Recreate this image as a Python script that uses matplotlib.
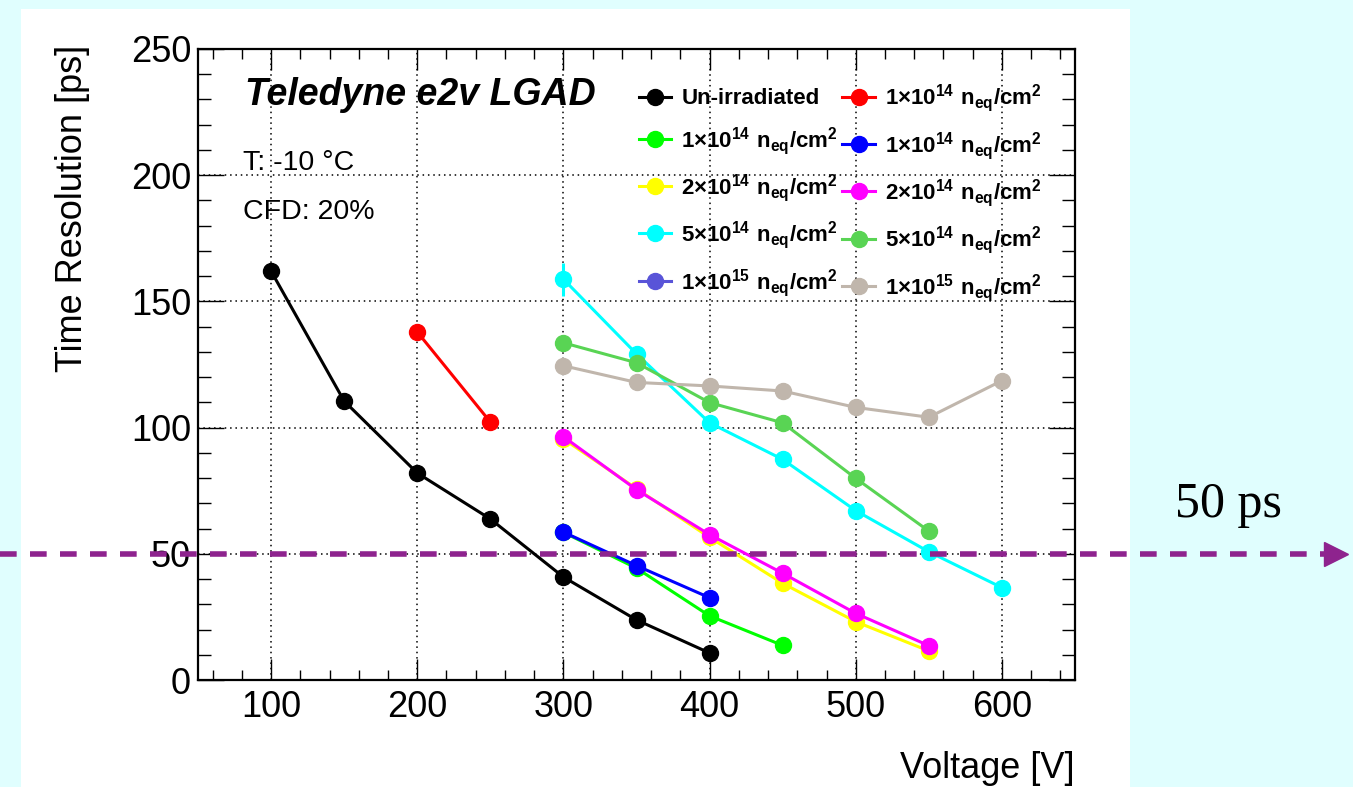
import matplotlib
matplotlib.use("Agg")
import matplotlib.pyplot as plt
from matplotlib.patches import Rectangle
from matplotlib.transforms import blended_transform_factory

plt.rcParams['font.family'] = ['Liberation Sans', 'DejaVu Sans']
plt.rcParams['mathtext.fontset'] = 'custom'
plt.rcParams['mathtext.rm'] = 'Liberation Sans'
plt.rcParams['mathtext.bf'] = 'Liberation Sans:bold'
plt.rcParams['mathtext.default'] = 'bf'

# time resolution [ps] vs bias voltage [V]
v_unirr = [100, 150, 200, 250, 300, 350, 400]
t_unirr = [162.0, 110.5, 82.0, 63.8, 40.8, 23.8, 10.7]

v_1e14_red = [200, 250]
t_1e14_red = [137.9, 102.2]

v_1e14_green = [300, 350, 400, 450]
t_1e14_green = [58.5, 44.3, 25.4, 13.7]

v_1e14_blue = [300, 350, 400]
t_1e14_blue = [58.6, 45.3, 32.6]

v_2e14_yellow = [300, 350, 400, 450, 500, 550]
t_2e14_yellow = [95.5, 75.8, 56.5, 38.3, 23.1, 11.5]

v_2e14_magenta = [300, 350, 400, 450, 500, 550]
t_2e14_magenta = [96.4, 75.4, 57.6, 42.3, 26.4, 13.6]

v_5e14_cyan = [300, 350, 400, 450, 500, 550, 600]
t_5e14_cyan = [158.8, 129.2, 101.9, 87.4, 67.1, 50.8, 36.6]
e_5e14_cyan = [6.5, 0, 0, 0, 0, 0, 0]

v_5e14_green = [300, 350, 400, 450, 500, 550]
t_5e14_green = [133.6, 125.7, 109.9, 101.9, 79.9, 59.0]

v_1e15_violet = []
t_1e15_violet = []

v_1e15_grey = [300, 350, 400, 450, 500, 550, 600]
t_1e15_grey = [124.5, 117.9, 116.5, 114.5, 108.0, 104.1, 118.6]

target_ps = 50

fluence = r"$%d{\times}10^{%d}\ n_{eq}/cm^{2}$"
series = [
    (v_unirr, t_unirr, None, "#000000", "Un-irradiated"),
    (v_1e14_red, t_1e14_red, None, "#ff0000", fluence % (1, 14)),
    (v_1e14_green, t_1e14_green, None, "#00ff00", fluence % (1, 14)),
    (v_1e14_blue, t_1e14_blue, None, "#0000ff", fluence % (1, 14)),
    (v_2e14_yellow, t_2e14_yellow, None, "#ffff00", fluence % (2, 14)),
    (v_2e14_magenta, t_2e14_magenta, None, "#ff00ff", fluence % (2, 14)),
    (v_5e14_cyan, t_5e14_cyan, e_5e14_cyan, "#00ffff", fluence % (5, 14)),
    (v_5e14_green, t_5e14_green, None, "#59d454", fluence % (5, 14)),
    (v_1e15_violet, t_1e15_violet, None, "#5954d8", fluence % (1, 15)),
    (v_1e15_grey, t_1e15_grey, None, "#c0b6ac", fluence % (1, 15)),
]

fig = plt.figure(figsize=(13.53, 7.87), dpi=100)
fig.patch.set_facecolor("#e0fefe")
fig.patches.append(Rectangle((21 / 1353, 0), (1130 - 21) / 1353, 778 / 787,
                             transform=fig.transFigure, facecolor="white",
                             edgecolor="none", zorder=-10))

ax = fig.add_axes([198 / 1353, 107 / 787, 877 / 1353, 631 / 787])
ax.set_facecolor("white")

handles = []
for v, t, err, col, lab in series:
    if err is not None:
        ax.errorbar(v, t, yerr=err, fmt="none", ecolor=col, elinewidth=2.2, zorder=3)
    h, = ax.plot(v, t, "-o", color=col, lw=2.2, ms=11.5, label=lab, zorder=3)
    handles.append(h)

ax.set_xlim(50, 650)
ax.set_ylim(0, 250)
ax.set_xticks([100, 200, 300, 400, 500, 600])
ax.set_xticks(range(60, 650, 20), minor=True)
ax.set_yticks([0, 50, 100, 150, 200, 250])
ax.set_yticks(range(0, 251, 10), minor=True)
ax.grid(True, which="major", color="black", ls=(0, (1, 2.5)), lw=1.1)
ax.set_axisbelow(True)

for s in ax.spines.values():
    s.set_linewidth(1.6)
ax.tick_params(axis="both", which="both", direction="in", top=True, right=True,
               width=1.0, labelsize=26)
ax.tick_params(axis="x", which="major", length=15, pad=7)
ax.tick_params(axis="x", which="minor", length=7)
ax.tick_params(axis="y", which="major", length=19, pad=5)
ax.tick_params(axis="y", which="minor", length=9.5)

fig.text(73 / 1353, 1 - 45 / 787, "Time Resolution [ps]", rotation=90,
         ha="center", va="top", fontsize=26)
fig.text(1075 / 1353, 1 - 768 / 787, "Voltage [V]", ha="right", va="center",
         fontsize=26)

ax.text(0.054, 0.911, "Teledyne e2v LGAD", transform=ax.transAxes,
        fontsize=27, fontweight="bold", fontstyle="italic", va="baseline")
ax.text(0.051, 0.808, "T: -10 \u00b0C", transform=ax.transAxes, fontsize=20.5,
        va="baseline")
ax.text(0.051, 0.731, "CFD: 20%", transform=ax.transAxes, fontsize=20.5,
        va="baseline")

order = handles[0::2] + handles[1::2]
ax.legend(handles=order, labels=[h.get_label() for h in order], ncol=2,
          loc="upper left", bbox_to_anchor=(0.503, 0.947), frameon=False,
          prop={"weight": "bold", "size": 16}, handlelength=1.45,
          handletextpad=0.45, columnspacing=0.2, labelspacing=0.69,
          borderpad=0, borderaxespad=0, markerscale=1.0)

# 50 ps target line across the whole page
tr = blended_transform_factory(fig.transFigure, ax.transData)
ax.plot([0, 1325 / 1353], [target_ps, target_ps], transform=tr, clip_on=False,
        color="#8e238e", lw=4.0, ls=(0, (3.0, 2.4)), zorder=5)
ax.plot([1336 / 1353], [target_ps], transform=tr, clip_on=False, marker=">",
        ms=17, color="#8e238e", zorder=5)
fig.text(1175 / 1353, 1 - 517 / 787, "%d ps" % target_ps, fontsize=36,
         family="Liberation Serif", va="baseline")

fig.savefig("out.png", dpi=100, facecolor=fig.get_facecolor())
